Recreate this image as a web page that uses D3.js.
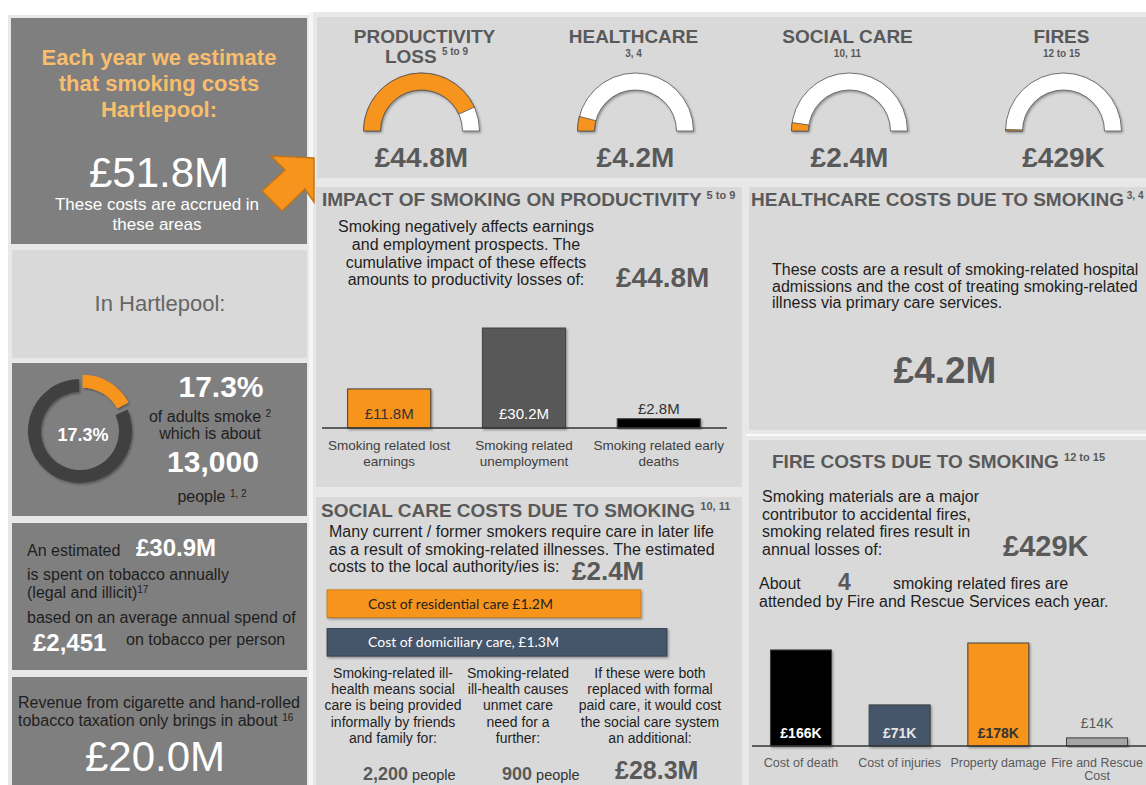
<!DOCTYPE html>
<html><head><meta charset="utf-8">
<script src="https://cdn.jsdelivr.net/npm/d3@7"></script>
<style>
body{margin:0;background:#fff;}
svg{display:block;font-family:"Liberation Sans",Arial,sans-serif;}
</style>
</head><body>
<svg id="c" width="1146" height="785"></svg>
<script>
// ---------------- DATA ----------------
const areaName = "Hartlepool";
const totalCost = 51.8;
const totalCostLabel = "£51.8M";
const gaugeCategories = ["PRODUCTIVITY LOSS", "HEALTHCARE", "SOCIAL CARE", "FIRES"];
const gaugeRefs = ["5 to 9", "3, 4", "10, 11", "12 to 15"];
const gaugeValues = [44.8, 4.2, 2.4, 0.429];
const gaugeLabels = ["£44.8M", "£4.2M", "£2.4M", "£429K"];

const smokingPrevalence = 17.3;
const adultSmokers = "13,000";
const tobaccoSpend = "£30.9M";
const spendPerPerson = "£2,451";
const taxRevenue = "£20.0M";

const productivityCategories = [["Smoking related lost", "earnings"], ["Smoking related", "unemployment"], ["Smoking related early", "deaths"]];
const productivityValues = [11.8, 30.2, 2.8];
const productivityLabels = ["£11.8M", "£30.2M", "£2.8M"];

const healthcareTotal = "£4.2M";

const socialCareCategories = ["Cost of residential care £1.2M", "Cost of domiciliary care, £1.3M"];
const socialCareValues = [1.2, 1.3];
const socialCareTotal = "£2.4M";
const informalCarePeople = "2,200";
const unmetCarePeople = "900";
const formalCareCost = "£28.3M";

const fireCategories = [["Cost of death"], ["Cost of injuries"], ["Property damage"], ["Fire and Rescue", "Cost"]];
const fireValues = [166, 71, 178, 14];
const fireLabels = ["£166K", "£71K", "£178K", "£14K"];
const fireTotal = "£429K";
const firesPerYear = "4";

// ---------------- STYLE ----------------
const ORANGE = "#F7941D", DARK = "#7f7f7f", LIGHT = "#d9d9d9", GAP = "#e8e8e8",
      HEAD = "#595959", INK = "#1e1e1e", SLATE = "#44546a";

const svg = d3.select("#c");
const defs = svg.append("defs");
const f = defs.append("filter").attr("id", "sh").attr("x", "-20%").attr("y", "-20%").attr("width", "140%").attr("height", "140%");
f.append("feDropShadow").attr("dx", 1.2).attr("dy", 1.5).attr("stdDeviation", 1.2).attr("flood-color", "#000").attr("flood-opacity", 0.35);

function rect(x, y, w, h, fill) {
  return svg.append("rect").attr("x", x).attr("y", y).attr("width", w).attr("height", h).attr("fill", fill);
}
function txt(g, x, y, s, o = {}) {
  return g.append("text").attr("x", x).attr("y", y)
    .attr("font-size", o.size || 16).attr("font-weight", o.weight || "normal")
    .attr("fill", o.fill || INK).attr("text-anchor", o.anchor || "start")
    .attr("font-family", o.family || null)
    .text(s);
}
function sup(t, s, size, raise) {
  t.append("tspan").attr("font-size", size).attr("dy", -raise).text(s);
  return t;
}
function lines(g, x, y0, dy, arr, o) {
  arr.forEach((s, i) => txt(g, x, y0 + i * dy, s, o));
}

// ---------------- BACKGROUND PANELS ----------------
rect(8, 15, 302, 770, GAP);
rect(312, 12, 834, 773, GAP);
rect(309, 12, 4, 773, "#f6f6f6");
rect(11, 18, 296, 226, DARK);
rect(12, 250, 295, 108, LIGHT);
rect(12, 363, 295, 153, DARK);
rect(12, 523, 295, 147, DARK);
rect(12, 677, 295, 108, DARK);
rect(317, 17, 829, 161, LIGHT);
rect(316, 187, 426, 300, LIGHT);
rect(749, 187, 397, 243, LIGHT);
rect(746, 434, 400, 2, "#fbfbfb");
rect(749, 440, 397, 345, LIGHT);
rect(316, 497, 426, 288, LIGHT);

const g = svg.append("g");

// ---------------- LEFT COLUMN ----------------
const peach = "#F8BE6D";
lines(g, 159, 65, 26, ["Each year we estimate", "that smoking costs", areaName + ":"], {size: 22, weight: "bold", fill: peach, anchor: "middle"});
txt(g, 159, 187, totalCostLabel, {size: 42, fill: "#fff", anchor: "middle"});
lines(g, 157, 210, 20, ["These costs are accrued in", "these areas"], {size: 17, fill: "#fff", anchor: "middle"});

txt(g, 160, 311, "In " + areaName + ":", {size: 22, fill: "#666", anchor: "middle"});

// donut
const donutC = [80, 431];
const pie = d3.pie().sort(null)([smokingPrevalence, 100 - smokingPrevalence]);
const dArc = d3.arc().innerRadius(39).outerRadius(52);
const dg = svg.append("g").attr("transform", `translate(${donutC[0]},${donutC[1]})`);
dg.selectAll("path").data(pie).join("path")
  .attr("d", d => dArc({startAngle: d.startAngle + (d.index ? 0.06 : 0), endAngle: d.endAngle - (d.index ? 0.02 : 0)}))
  .attr("fill", (d, i) => i === 0 ? ORANGE : "#404040")
  .attr("filter", "url(#sh)")
  .attr("transform", d => {
    if (d.index !== 0) return null;
    const a = (d.startAngle + d.endAngle) / 2;
    return `translate(${5 * Math.sin(a)},${-5 * Math.cos(a)})`;
  });
txt(g, 83, 441, smokingPrevalence + "%", {size: 18, weight: "bold", fill: "#fff", anchor: "middle"});
txt(g, 221, 397, smokingPrevalence + "%", {size: 30, weight: "bold", fill: "#fff", anchor: "middle"});
sup(txt(g, 210, 422, "of adults smoke ", {size: 16, anchor: "middle"}), "2", 10, 5);
txt(g, 210, 439, "which is about", {size: 16, anchor: "middle"});
txt(g, 213, 472, adultSmokers, {size: 30, weight: "bold", fill: "#fff", anchor: "middle"});
sup(txt(g, 212, 502, "people ", {size: 16, anchor: "middle"}), "1, 2", 10, 5);

txt(g, 27, 556, "An estimated", {size: 16});
txt(g, 136, 556, tobaccoSpend, {size: 24, weight: "bold", fill: "#fff"});
txt(g, 27, 580, "is spent on tobacco annually", {size: 16});
sup(txt(g, 27, 598, "(legal and illicit)", {size: 16}), "17", 10, 5);
txt(g, 27, 623, "based on an average annual spend of", {size: 16});
txt(g, 33, 651, spendPerPerson, {size: 24, weight: "bold", fill: "#fff"});
txt(g, 126, 645, "on tobacco per person", {size: 16});

txt(g, 18, 708, "Revenue from cigarette and hand-rolled", {size: 16});
sup(txt(g, 18, 726, "tobacco taxation only brings in about ", {size: 16}), "16", 10, 5);
txt(g, 155, 771, taxRevenue, {size: 42, fill: "#fff", anchor: "middle"});

// ---------------- GAUGES ----------------
const gx = d3.scalePoint().domain(gaugeCategories).range([421.5, 1063.5]);
const ang = d3.scaleLinear().domain([0, totalCost]).range([-Math.PI / 2, Math.PI / 2]);
const gArc = d3.arc().innerRadius(41).outerRadius(58);
gaugeCategories.forEach((c, i) => {
  const cx = gx(c), cy = 131;
  const gg = svg.append("g").attr("transform", `translate(${cx},${cy})`);
  gg.append("path").attr("d", gArc({startAngle: -Math.PI / 2, endAngle: Math.PI / 2}))
    .attr("fill", "#fff").attr("stroke", "#505050").attr("stroke-width", 0.8).attr("filter", "url(#sh)");
  gg.append("path").attr("d", gArc({startAngle: -Math.PI / 2, endAngle: ang(gaugeValues[i])}))
    .attr("fill", ORANGE).attr("stroke", "#505050").attr("stroke-width", 0.8);
  const words = c.split(" ");
  if (i === 0) {
    txt(g, cx + 3, 43, words[0], {size: 19, weight: "bold", fill: HEAD, anchor: "middle"});
    sup(txt(g, cx + 5, 63, words[1] + " ", {size: 19, weight: "bold", fill: HEAD, anchor: "middle"}), gaugeRefs[i], 10, 8);
  } else {
    txt(g, cx - 2, 43, c, {size: 19, weight: "bold", fill: HEAD, anchor: "middle"});
    txt(g, cx - 2, 57, gaugeRefs[i], {size: 10, weight: "bold", fill: HEAD, anchor: "middle"});
  }
  txt(g, cx, 167, gaugeLabels[i], {size: 28, weight: "bold", fill: HEAD, anchor: "middle"});
});

// ---------------- PRODUCTIVITY ----------------
sup(txt(g, 322, 206, "IMPACT OF SMOKING ON PRODUCTIVITY ", {size: 19, weight: "bold", fill: HEAD}), "5 to 9", 11, 7);
lines(g, 466, 232, 17.8, ["Smoking negatively affects earnings", "and employment prospects. The", "cumulative impact of these effects", "amounts to productivity losses of:"], {size: 16, anchor: "middle"});
txt(g, 616, 287, gaugeLabels[0], {size: 28, weight: "bold", fill: HEAD});

const px = d3.scaleBand().domain(productivityCategories.map(d => d.join(" "))).range([322, 726]).paddingInner(0.383).paddingOuter(0.19);
const py = d3.scaleLinear().domain([0, d3.max(productivityValues)]).range([428, 328]);
const pColors = [ORANGE, "#595959", "#000"];
const pg = svg.append("g");
pg.selectAll("rect").data(productivityValues).join("rect")
  .attr("x", (d, i) => px(productivityCategories[i].join(" ")))
  .attr("width", px.bandwidth())
  .attr("y", d => py(d)).attr("height", d => py(0) - py(d))
  .attr("fill", (d, i) => pColors[i]).attr("stroke", "#404040").attr("stroke-width", 1).attr("filter", "url(#sh)");
pg.append("line").attr("x1", 322).attr("x2", 727).attr("y1", py(0)).attr("y2", py(0)).attr("stroke", "#333").attr("stroke-width", 1.5);
productivityValues.forEach((v, i) => {
  const cx = px(productivityCategories[i].join(" ")) + px.bandwidth() / 2;
  const inside = py(0) - py(v) > 25;
  txt(pg, cx, inside ? 419 : py(v) - 5, productivityLabels[i], {size: 15, fill: i === 1 ? "#fff" : "#333", anchor: "middle"});
  productivityCategories[i].forEach((s, j) => txt(pg, cx, 450 + j * 16, s, {size: 13.5, fill: "#404040", anchor: "middle"}));
});

// ---------------- HEALTHCARE ----------------
sup(txt(g, 751, 206, "HEALTHCARE COSTS DUE TO SMOKING", {size: 19, weight: "bold", fill: HEAD}), " 3, 4", 10, 7);
lines(g, 772, 275, 16.7, ["These costs are a result of smoking-related hospital", "admissions and the cost of treating smoking-related", "illness via primary care services."], {size: 16});
txt(g, 945, 383, healthcareTotal, {size: 37, weight: "bold", fill: HEAD, anchor: "middle"});

// ---------------- SOCIAL CARE ----------------
sup(txt(g, 321, 517, "SOCIAL CARE COSTS DUE TO SMOKING ", {size: 19, weight: "bold", fill: HEAD}), "10, 11", 11, 7);
lines(g, 329, 537, 17.5, ["Many current / former smokers require care in later life", "as a result of smoking-related illnesses. The estimated", "costs to the local authority/ies is:"], {size: 16});
txt(g, 572, 580, socialCareTotal, {size: 26, weight: "bold", fill: HEAD});

const sx = d3.scaleLinear().domain([0, d3.max(socialCareValues)]).range([0, 340]);
const sy = d3.scaleBand().domain(socialCareCategories).range([586, 660]).paddingInner(0.28).paddingOuter(0.1);
const sColors = [ORANGE, SLATE];
const sg = svg.append("g");
sg.selectAll("rect").data(socialCareValues).join("rect")
  .attr("x", 327).attr("y", (d, i) => sy(socialCareCategories[i]))
  .attr("width", d => sx(d)).attr("height", sy.bandwidth())
  .attr("fill", (d, i) => sColors[i]).attr("stroke", (d, i) => i ? "#2f3b4c" : "#c8761a").attr("stroke-width", 0.8)
  .attr("filter", "url(#sh)");
socialCareCategories.forEach((c, i) => {
  txt(sg, 368, sy(c) + sy.bandwidth() / 2 + 5, c, {size: 14, family: "Lato, sans-serif", fill: i ? "#fff" : "#222"});
});

const colText = [
  ["Smoking-related ill-", "health means social", "care is being provided", "informally by friends", "and family for:"],
  ["Smoking-related", "ill-health causes", "unmet care", "need for a", "further:"],
  ["If these were both", "replaced with formal", "paid care, it would cost", "the social care system", "an additional:"]
];
[393, 518, 650].forEach((cx, i) => lines(g, cx, 678, 16.2, colText[i], {size: 14, anchor: "middle"}));
const p1 = txt(g, 363, 780, informalCarePeople, {size: 18, weight: "bold", fill: HEAD});
p1.append("tspan").attr("font-size", 14.5).attr("font-weight", "normal").attr("fill", "#333").text(" people");
const p2 = txt(g, 502, 780, unmetCarePeople, {size: 18, weight: "bold", fill: HEAD});
p2.append("tspan").attr("font-size", 14.5).attr("font-weight", "normal").attr("fill", "#333").text(" people");
txt(g, 615, 779, formalCareCost, {size: 25, weight: "bold", fill: HEAD});

// ---------------- FIRES ----------------
sup(txt(g, 772, 468, "FIRE COSTS DUE TO SMOKING ", {size: 19, weight: "bold", fill: HEAD}), "12 to 15", 11, 7);
lines(g, 762, 502, 17.7, ["Smoking materials are a major", "contributor to accidental fires,", "smoking related fires result in", "annual losses of:"], {size: 16});
txt(g, 1003, 556, fireTotal, {size: 29, weight: "bold", fill: HEAD});
txt(g, 759, 589, "About", {size: 16});
txt(g, 838, 590, firesPerYear, {size: 23, weight: "bold", fill: HEAD});
txt(g, 893, 589, "smoking related fires are", {size: 16});
txt(g, 759, 607, "attended by Fire and Rescue Services each year.", {size: 16});

const fx = d3.scaleBand().domain(fireCategories.map(d => d.join(" "))).range([752, 1146]).paddingInner(0.382).paddingOuter(0.187);
const fy = d3.scaleLinear().domain([0, d3.max(fireValues)]).range([746, 643]);
const fColors = ["#000", SLATE, ORANGE, "#a6a6a6"];
const fLabelColors = ["#fff", "#e6e6e6", "#333", "#595959"];
const fg = svg.append("g");
fg.selectAll("rect").data(fireValues).join("rect")
  .attr("x", (d, i) => fx(fireCategories[i].join(" ")))
  .attr("width", fx.bandwidth())
  .attr("y", d => fy(d)).attr("height", d => fy(0) - fy(d))
  .attr("fill", (d, i) => fColors[i]).attr("stroke", "#404040").attr("stroke-width", 1).attr("filter", "url(#sh)");
fg.append("line").attr("x1", 752).attr("x2", 1146).attr("y1", fy(0)).attr("y2", fy(0)).attr("stroke", "#333").attr("stroke-width", 1.5);
fireValues.forEach((v, i) => {
  const cx = fx(fireCategories[i].join(" ")) + fx.bandwidth() / 2;
  const inside = fy(0) - fy(v) > 25;
  txt(fg, cx, inside ? 738 : fy(v) - 10, fireLabels[i], {size: 14, weight: inside ? "bold" : "normal", fill: fLabelColors[i], anchor: "middle"});
  fireCategories[i].forEach((s, j) => txt(fg, cx, 767 + j * 13, s, {size: 12.5, fill: "#595959", anchor: "middle"}));
});

// ---------------- ARROW ----------------
svg.append("path")
  .attr("d", "M314,158 L271,156 L285,170 L262,191 L282,211 L305,189 L314,202 Z")
  .attr("fill", ORANGE).attr("stroke", "#c0761a").attr("stroke-width", 1.5).attr("stroke-linejoin", "miter");
</script>
</body></html>
